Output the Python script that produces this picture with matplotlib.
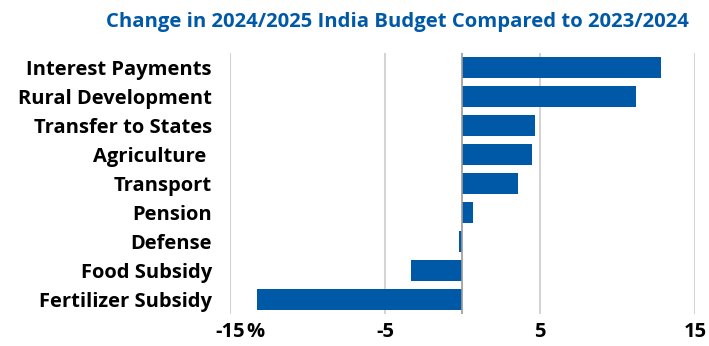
import matplotlib.pyplot as plt

categories = ["Interest Payments", "Rural Development", "Transfer to States",
              "Agriculture ", "Transport", "Pension", "Defense",
              "Food Subsidy", "Fertilizer Subsidy"]
changes = [12.8, 11.2, 4.7, 4.5, 3.6, 0.7, -0.2, -3.3, -13.25]
xticks = [-15, -5, 5, 15]
xticklabels = ["-15", "-5", "5", "15"]

blue = "#0059a6"
font = "Open Sans"

fig = plt.figure(figsize=(7.09, 3.46), dpi=100)
ax = fig.add_axes([0.3244, 0.0925, 0.6556, 0.7545])

ypos = list(range(len(categories)))
ax.barh(ypos, changes, height=0.7, color=blue, zorder=3)
ax.set_ylim(len(categories) - 0.5, -0.5)
ax.set_xlim(-15, 15)

ax.set_xticks(xticks)
ax.set_xticklabels(xticklabels, fontsize=14.5, fontweight="bold", family=font)
ax.set_yticks(ypos)
ax.set_yticklabels(categories, fontsize=14.5, fontweight="bold", family=font)
ax.tick_params(axis="y", length=0, pad=13)
ax.tick_params(axis="x", length=0, pad=6)

# percent sign trailing the first x tick label
ax.annotate("%", xy=(xticks[0], 0), xycoords=("data", "axes fraction"),
            xytext=(11.5, -6), textcoords="offset points", ha="left", va="top",
            fontsize=14.5, fontweight="bold", family=font)

ax.grid(axis="x", color="#d4d4d4", linewidth=1.5, zorder=0)
ax.axvline(0, color="#9a9a9a", linewidth=1.2, zorder=4)
for s in ax.spines.values():
    s.set_visible(False)

fig.text(0.561, 0.936, "Change in 2024/2025 India Budget Compared to 2023/2024",
         ha="center", va="center", fontsize=14.6, fontweight="bold",
         color=blue, family=font)

fig.savefig("out.png", dpi=100)
